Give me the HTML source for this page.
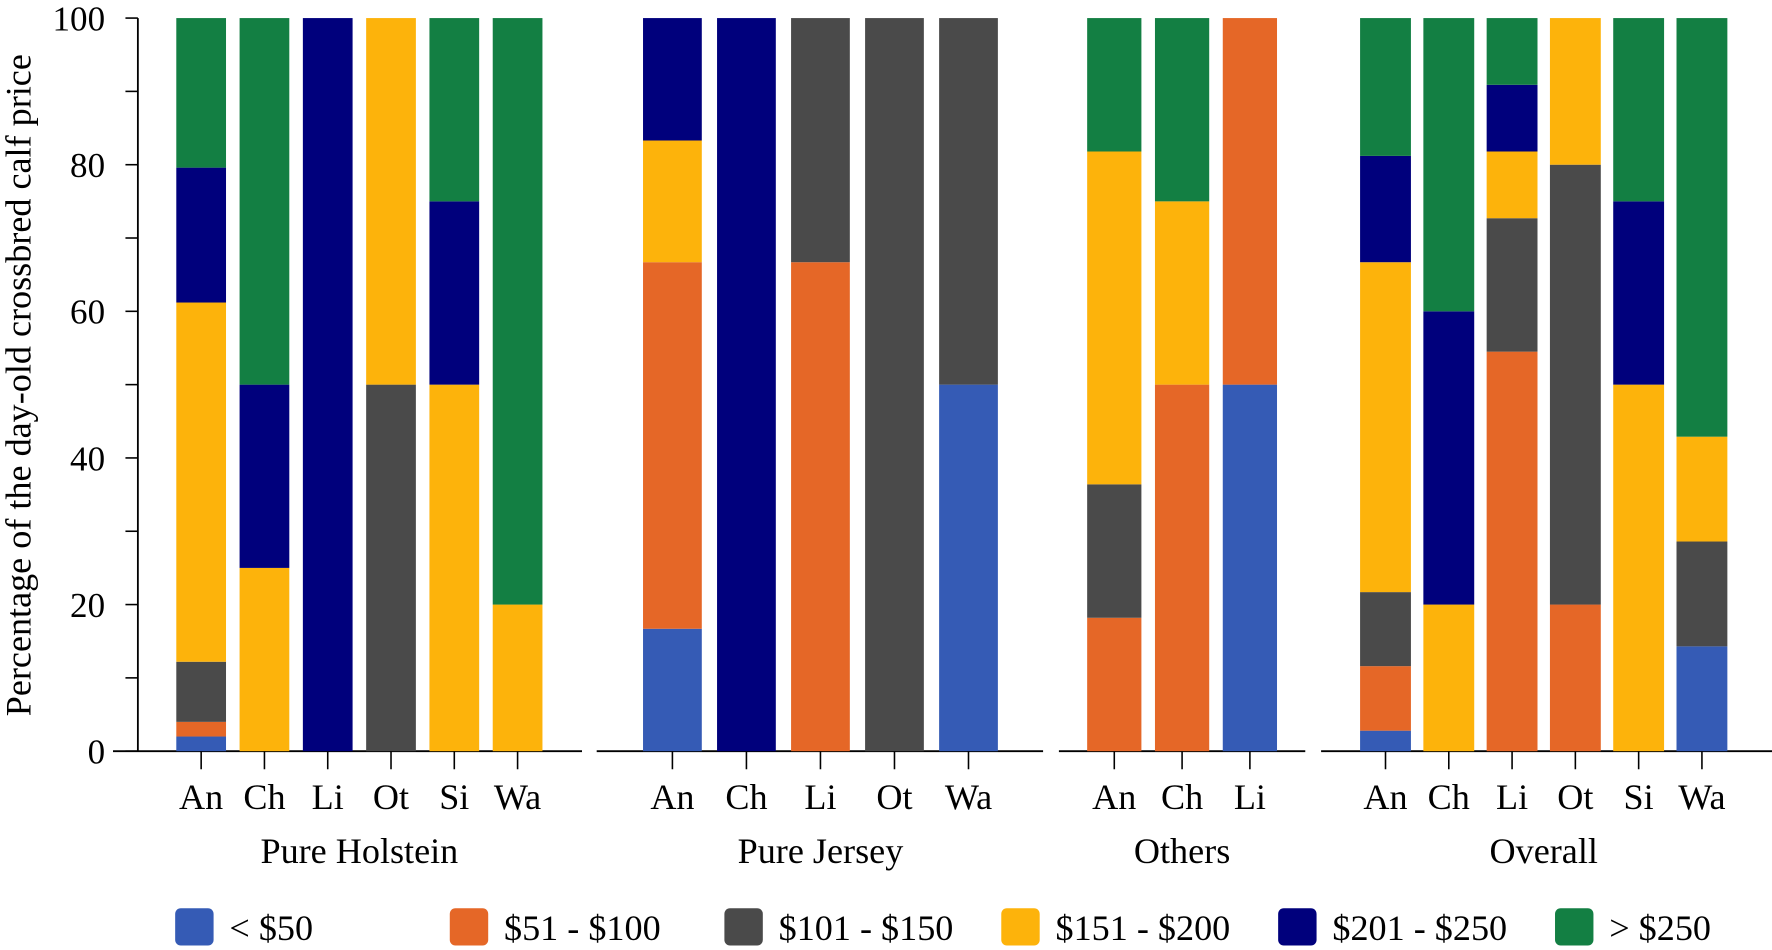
<!DOCTYPE html>
<html><head><meta charset="utf-8">
<style>
html,body{margin:0;padding:0;background:#fff;}
svg{display:block;}
text{font-family:"Liberation Serif",serif;fill:#000;}
</style></head>
<body>
<svg id="chart" width="1772" height="950" viewBox="0 0 1568 841" preserveAspectRatio="none" xmlns="http://www.w3.org/2000/svg">
<text transform="translate(27,341) rotate(-90)" text-anchor="middle" font-size="32">Percentage of the day-old crossbred calf price</text>
<g id="g"></g>
</svg>
<script>
const seriesNames = ["< $50","$51 - $100","$101 - $150","$151 - $200","$201 - $250","> $250"];
const seriesColors = ["#355bb5","#e56727","#4a4a4a","#fdb30b","#00007c","#137f43"];
const groupNames = ["Pure Holstein","Pure Jersey","Others","Overall"];
const groupCategories = [["An","Ch","Li","Ot","Si","Wa"],["An","Ch","Li","Ot","Wa"],["An","Ch","Li"],["An","Ch","Li","Ot","Si","Wa"]];
const pureHolstein = [[2,2,8.2,49,18.4,20.4],[0,0,0,25,25,50],[0,0,0,0,100,0],[0,0,50,50,0,0],[0,0,0,50,25,25],[0,0,0,20,0,80]];
const pureJersey = [[16.7,50,0,16.6,16.7,0],[0,0,0,0,100,0],[0,66.7,33.3,0,0,0],[0,0,100,0,0,0],[50,0,50,0,0,0]];
const others = [[0,18.2,18.2,45.4,0,18.2],[0,50,0,25,0,25],[50,50,0,0,0,0]];
const overall = [[2.8,8.8,10.1,45,14.5,18.8],[0,0,0,20,40,40],[0,54.5,18.2,9.1,9.1,9.1],[0,20,60,20,0,0],[0,0,0,50,25,25],[14.3,0,14.3,14.3,0,57.1]];
const groupValues = [pureHolstein,pureJersey,others,overall];
const yTicks = [0,20,40,60,80,100];

const NS="http://www.w3.org/2000/svg";
const g=document.getElementById('g');
function mk(t,a,p){const e=document.createElementNS(NS,t);for(const k in a)e.setAttribute(k,a[k]);(p||g).appendChild(e);return e;}
const y0=665,y1=16;
function yS(v){return y0-(y0-y1)*v/100;}
const panels=[{x0:100,x1:515,c0:178,step:56,w:44},{x0:528,x1:923,c0:595,step:65.5,w:52},{x0:937,x1:1155,c0:986,step:60,w:48},{x0:1169,x1:1568,c0:1226,step:56,w:45}];
function xS(p,i){return panels[p].c0+panels[p].step*i;}

const ya=mk('line',{x1:122,x2:122,y1:y1,y2:y0,stroke:'#000','stroke-width':1.6});


for(let v=0;v<=100;v+=10){
  const t=mk('line',{x1:111,x2:122,y1:yS(v),y2:yS(v),stroke:'#000','stroke-width':1.4});
  
  
}
yTicks.forEach(v=>{
  const t=mk('text',{x:93,y:yS(v)+11,'text-anchor':'end','font-size':31});
  
  
  t.textContent=v;
});

groupValues.forEach((vals,p)=>{
  const P=panels[p];
  const bl=mk('line',{x1:P.x0,x2:P.x1,y1:y0,y2:y0,stroke:'#000','stroke-width':1.6});
  
  
  vals.forEach((stack,i)=>{
    const cx=xS(p,i);
    let acc=0;
    stack.forEach((v,s)=>{
      if(v<=0)return;
      const top=yS(acc+v),bot=yS(acc);
      const r=mk('rect',{x:cx-P.w/2,y:top,width:P.w,height:bot-top,fill:seriesColors[s]});
      
      
      acc+=v;
    });
    const tk=mk('line',{x1:cx,x2:cx,y1:y0,y2:y0+16,stroke:'#000','stroke-width':1.4});
    
    
    const lb=mk('text',{x:cx,y:716,'text-anchor':'middle','font-size':32});
    
    
    lb.textContent=groupCategories[p][i];
  });
  const n=vals.length;
  const gc=(xS(p,0)+xS(p,n-1))/2;
  const gl=mk('text',{x:gc,y:764,'text-anchor':'middle','font-size':32});
  
  
  gl.textContent=groupNames[p];
});

const legX=[155,398,641,886,1131,1376];
seriesNames.forEach((nm,s)=>{
  const lg=mk('g',{});
  
  
  mk('rect',{x:legX[s],y:804,width:34,height:33,rx:5,fill:seriesColors[s]},lg);
  const t=mk('text',{x:legX[s]+48,y:832,'font-size':32},lg);
  t.textContent=nm;
});
</script>
</body></html>
